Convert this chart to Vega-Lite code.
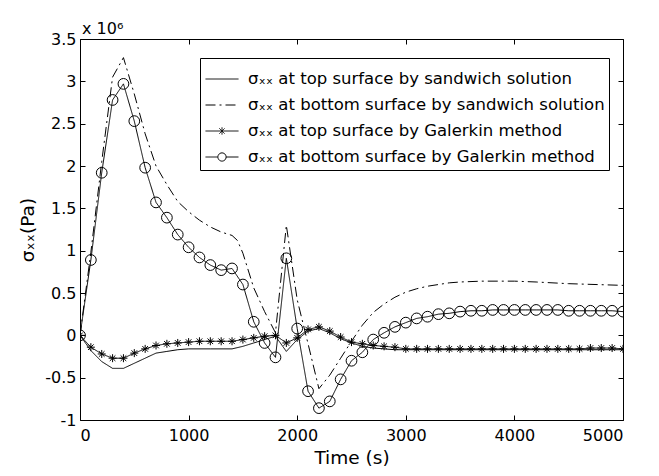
{
  "$schema": "https://vega.github.io/schema/vega-lite/v6.json",
  "autosize": "none",
  "width": 543,
  "height": 381,
  "padding": {"left": 80, "top": 39, "right": 36, "bottom": 56},
  "background": "white",
  "title": {"text": "x 10⁶", "anchor": "start", "frame": "group", "orient": "top", "offset": 6, "dx": 2, "dy": 25, "baseline": "alphabetic", "font": "DejaVu Sans", "fontSize": 16, "fontWeight": "normal", "color": "black"},
  "config": {
    "view": {"stroke": null},
    "font": "DejaVu Sans",
    "axis": {"grid": false, "domainColor": "black", "tickColor": "black", "labelColor": "black", "titleColor": "black", "labelFont": "DejaVu Sans", "titleFont": "DejaVu Sans", "labelFontSize": 16, "titleFontSize": 18.5, "titleFontWeight": "normal", "tickSize": -5, "domainWidth": 1, "tickWidth": 1}
  },
  "datasets": {
    "curves": [
      {"t": 0, "s": "σₓₓ at top surface by sandwich solution", "v": 0},
      {"t": 100, "s": "σₓₓ at top surface by sandwich solution", "v": -0.18},
      {"t": 200, "s": "σₓₓ at top surface by sandwich solution", "v": -0.31},
      {"t": 300, "s": "σₓₓ at top surface by sandwich solution", "v": -0.39},
      {"t": 400, "s": "σₓₓ at top surface by sandwich solution", "v": -0.39},
      {"t": 500, "s": "σₓₓ at top surface by sandwich solution", "v": -0.33},
      {"t": 600, "s": "σₓₓ at top surface by sandwich solution", "v": -0.27},
      {"t": 700, "s": "σₓₓ at top surface by sandwich solution", "v": -0.21},
      {"t": 800, "s": "σₓₓ at top surface by sandwich solution", "v": -0.19},
      {"t": 900, "s": "σₓₓ at top surface by sandwich solution", "v": -0.17},
      {"t": 1000, "s": "σₓₓ at top surface by sandwich solution", "v": -0.16},
      {"t": 1200, "s": "σₓₓ at top surface by sandwich solution", "v": -0.16},
      {"t": 1400, "s": "σₓₓ at top surface by sandwich solution", "v": -0.16},
      {"t": 1500, "s": "σₓₓ at top surface by sandwich solution", "v": -0.13},
      {"t": 1600, "s": "σₓₓ at top surface by sandwich solution", "v": -0.09},
      {"t": 1700, "s": "σₓₓ at top surface by sandwich solution", "v": -0.05},
      {"t": 1800, "s": "σₓₓ at top surface by sandwich solution", "v": -0.01},
      {"t": 1900, "s": "σₓₓ at top surface by sandwich solution", "v": -0.19},
      {"t": 2000, "s": "σₓₓ at top surface by sandwich solution", "v": -0.05},
      {"t": 2100, "s": "σₓₓ at top surface by sandwich solution", "v": 0.05},
      {"t": 2200, "s": "σₓₓ at top surface by sandwich solution", "v": 0.08},
      {"t": 2300, "s": "σₓₓ at top surface by sandwich solution", "v": 0.03},
      {"t": 2400, "s": "σₓₓ at top surface by sandwich solution", "v": -0.04},
      {"t": 2500, "s": "σₓₓ at top surface by sandwich solution", "v": -0.09},
      {"t": 2600, "s": "σₓₓ at top surface by sandwich solution", "v": -0.13},
      {"t": 2700, "s": "σₓₓ at top surface by sandwich solution", "v": -0.15},
      {"t": 2800, "s": "σₓₓ at top surface by sandwich solution", "v": -0.16},
      {"t": 2900, "s": "σₓₓ at top surface by sandwich solution", "v": -0.17},
      {"t": 3500, "s": "σₓₓ at top surface by sandwich solution", "v": -0.17},
      {"t": 4000, "s": "σₓₓ at top surface by sandwich solution", "v": -0.17},
      {"t": 4500, "s": "σₓₓ at top surface by sandwich solution", "v": -0.17},
      {"t": 5000, "s": "σₓₓ at top surface by sandwich solution", "v": -0.17},

      {"t": 0, "s": "σₓₓ at bottom surface by sandwich solution", "v": 0},
      {"t": 100, "s": "σₓₓ at bottom surface by sandwich solution", "v": 0.98},
      {"t": 200, "s": "σₓₓ at bottom surface by sandwich solution", "v": 2.05},
      {"t": 300, "s": "σₓₓ at bottom surface by sandwich solution", "v": 3.05},
      {"t": 400, "s": "σₓₓ at bottom surface by sandwich solution", "v": 3.28},
      {"t": 500, "s": "σₓₓ at bottom surface by sandwich solution", "v": 2.85},
      {"t": 600, "s": "σₓₓ at bottom surface by sandwich solution", "v": 2.38},
      {"t": 700, "s": "σₓₓ at bottom surface by sandwich solution", "v": 2.0},
      {"t": 800, "s": "σₓₓ at bottom surface by sandwich solution", "v": 1.78},
      {"t": 900, "s": "σₓₓ at bottom surface by sandwich solution", "v": 1.58},
      {"t": 1000, "s": "σₓₓ at bottom surface by sandwich solution", "v": 1.46},
      {"t": 1100, "s": "σₓₓ at bottom surface by sandwich solution", "v": 1.36},
      {"t": 1200, "s": "σₓₓ at bottom surface by sandwich solution", "v": 1.28},
      {"t": 1300, "s": "σₓₓ at bottom surface by sandwich solution", "v": 1.22},
      {"t": 1400, "s": "σₓₓ at bottom surface by sandwich solution", "v": 1.18},
      {"t": 1450, "s": "σₓₓ at bottom surface by sandwich solution", "v": 1.12},
      {"t": 1500, "s": "σₓₓ at bottom surface by sandwich solution", "v": 0.97},
      {"t": 1600, "s": "σₓₓ at bottom surface by sandwich solution", "v": 0.56},
      {"t": 1700, "s": "σₓₓ at bottom surface by sandwich solution", "v": 0.28},
      {"t": 1800, "s": "σₓₓ at bottom surface by sandwich solution", "v": 0.03},
      {"t": 1900, "s": "σₓₓ at bottom surface by sandwich solution", "v": 1.3},
      {"t": 2000, "s": "σₓₓ at bottom surface by sandwich solution", "v": 0.42},
      {"t": 2100, "s": "σₓₓ at bottom surface by sandwich solution", "v": -0.1},
      {"t": 2200, "s": "σₓₓ at bottom surface by sandwich solution", "v": -0.63},
      {"t": 2300, "s": "σₓₓ at bottom surface by sandwich solution", "v": -0.47},
      {"t": 2400, "s": "σₓₓ at bottom surface by sandwich solution", "v": -0.27},
      {"t": 2500, "s": "σₓₓ at bottom surface by sandwich solution", "v": -0.07},
      {"t": 2600, "s": "σₓₓ at bottom surface by sandwich solution", "v": 0.12},
      {"t": 2700, "s": "σₓₓ at bottom surface by sandwich solution", "v": 0.27},
      {"t": 2800, "s": "σₓₓ at bottom surface by sandwich solution", "v": 0.37},
      {"t": 2900, "s": "σₓₓ at bottom surface by sandwich solution", "v": 0.45},
      {"t": 3000, "s": "σₓₓ at bottom surface by sandwich solution", "v": 0.51},
      {"t": 3100, "s": "σₓₓ at bottom surface by sandwich solution", "v": 0.55},
      {"t": 3200, "s": "σₓₓ at bottom surface by sandwich solution", "v": 0.58},
      {"t": 3300, "s": "σₓₓ at bottom surface by sandwich solution", "v": 0.6},
      {"t": 3400, "s": "σₓₓ at bottom surface by sandwich solution", "v": 0.62},
      {"t": 3500, "s": "σₓₓ at bottom surface by sandwich solution", "v": 0.63},
      {"t": 3700, "s": "σₓₓ at bottom surface by sandwich solution", "v": 0.64},
      {"t": 4000, "s": "σₓₓ at bottom surface by sandwich solution", "v": 0.64},
      {"t": 4200, "s": "σₓₓ at bottom surface by sandwich solution", "v": 0.63},
      {"t": 4500, "s": "σₓₓ at bottom surface by sandwich solution", "v": 0.61},
      {"t": 5000, "s": "σₓₓ at bottom surface by sandwich solution", "v": 0.59},

      {"t": 0, "s": "σₓₓ at top surface by Galerkin method", "v": 0},
      {"t": 100, "s": "σₓₓ at top surface by Galerkin method", "v": -0.14},
      {"t": 200, "s": "σₓₓ at top surface by Galerkin method", "v": -0.22},
      {"t": 300, "s": "σₓₓ at top surface by Galerkin method", "v": -0.27},
      {"t": 400, "s": "σₓₓ at top surface by Galerkin method", "v": -0.27},
      {"t": 500, "s": "σₓₓ at top surface by Galerkin method", "v": -0.21},
      {"t": 600, "s": "σₓₓ at top surface by Galerkin method", "v": -0.16},
      {"t": 700, "s": "σₓₓ at top surface by Galerkin method", "v": -0.12},
      {"t": 800, "s": "σₓₓ at top surface by Galerkin method", "v": -0.1},
      {"t": 900, "s": "σₓₓ at top surface by Galerkin method", "v": -0.09},
      {"t": 1000, "s": "σₓₓ at top surface by Galerkin method", "v": -0.08},
      {"t": 1100, "s": "σₓₓ at top surface by Galerkin method", "v": -0.07},
      {"t": 1200, "s": "σₓₓ at top surface by Galerkin method", "v": -0.07},
      {"t": 1300, "s": "σₓₓ at top surface by Galerkin method", "v": -0.07},
      {"t": 1400, "s": "σₓₓ at top surface by Galerkin method", "v": -0.07},
      {"t": 1500, "s": "σₓₓ at top surface by Galerkin method", "v": -0.05},
      {"t": 1600, "s": "σₓₓ at top surface by Galerkin method", "v": -0.03},
      {"t": 1700, "s": "σₓₓ at top surface by Galerkin method", "v": -0.01},
      {"t": 1800, "s": "σₓₓ at top surface by Galerkin method", "v": 0.0},
      {"t": 1900, "s": "σₓₓ at top surface by Galerkin method", "v": -0.09},
      {"t": 2000, "s": "σₓₓ at top surface by Galerkin method", "v": -0.03},
      {"t": 2100, "s": "σₓₓ at top surface by Galerkin method", "v": 0.07},
      {"t": 2200, "s": "σₓₓ at top surface by Galerkin method", "v": 0.1},
      {"t": 2300, "s": "σₓₓ at top surface by Galerkin method", "v": 0.05},
      {"t": 2400, "s": "σₓₓ at top surface by Galerkin method", "v": -0.02},
      {"t": 2500, "s": "σₓₓ at top surface by Galerkin method", "v": -0.08},
      {"t": 2600, "s": "σₓₓ at top surface by Galerkin method", "v": -0.1},
      {"t": 2700, "s": "σₓₓ at top surface by Galerkin method", "v": -0.12},
      {"t": 2800, "s": "σₓₓ at top surface by Galerkin method", "v": -0.13},
      {"t": 2900, "s": "σₓₓ at top surface by Galerkin method", "v": -0.14},
      {"t": 3000, "s": "σₓₓ at top surface by Galerkin method", "v": -0.16},
      {"t": 3100, "s": "σₓₓ at top surface by Galerkin method", "v": -0.16},
      {"t": 3200, "s": "σₓₓ at top surface by Galerkin method", "v": -0.16},
      {"t": 3300, "s": "σₓₓ at top surface by Galerkin method", "v": -0.16},
      {"t": 3400, "s": "σₓₓ at top surface by Galerkin method", "v": -0.16},
      {"t": 3500, "s": "σₓₓ at top surface by Galerkin method", "v": -0.16},
      {"t": 3600, "s": "σₓₓ at top surface by Galerkin method", "v": -0.16},
      {"t": 3700, "s": "σₓₓ at top surface by Galerkin method", "v": -0.16},
      {"t": 3800, "s": "σₓₓ at top surface by Galerkin method", "v": -0.16},
      {"t": 3900, "s": "σₓₓ at top surface by Galerkin method", "v": -0.16},
      {"t": 4000, "s": "σₓₓ at top surface by Galerkin method", "v": -0.16},
      {"t": 4100, "s": "σₓₓ at top surface by Galerkin method", "v": -0.16},
      {"t": 4200, "s": "σₓₓ at top surface by Galerkin method", "v": -0.16},
      {"t": 4300, "s": "σₓₓ at top surface by Galerkin method", "v": -0.16},
      {"t": 4400, "s": "σₓₓ at top surface by Galerkin method", "v": -0.16},
      {"t": 4500, "s": "σₓₓ at top surface by Galerkin method", "v": -0.16},
      {"t": 4600, "s": "σₓₓ at top surface by Galerkin method", "v": -0.16},
      {"t": 4700, "s": "σₓₓ at top surface by Galerkin method", "v": -0.15},
      {"t": 4800, "s": "σₓₓ at top surface by Galerkin method", "v": -0.15},
      {"t": 4900, "s": "σₓₓ at top surface by Galerkin method", "v": -0.15},
      {"t": 5000, "s": "σₓₓ at top surface by Galerkin method", "v": -0.16},

      {"t": 0, "s": "σₓₓ at bottom surface by Galerkin method", "v": 0},
      {"t": 100, "s": "σₓₓ at bottom surface by Galerkin method", "v": 0.89},
      {"t": 200, "s": "σₓₓ at bottom surface by Galerkin method", "v": 1.92},
      {"t": 300, "s": "σₓₓ at bottom surface by Galerkin method", "v": 2.78},
      {"t": 400, "s": "σₓₓ at bottom surface by Galerkin method", "v": 2.97},
      {"t": 500, "s": "σₓₓ at bottom surface by Galerkin method", "v": 2.53},
      {"t": 600, "s": "σₓₓ at bottom surface by Galerkin method", "v": 1.98},
      {"t": 700, "s": "σₓₓ at bottom surface by Galerkin method", "v": 1.57},
      {"t": 800, "s": "σₓₓ at bottom surface by Galerkin method", "v": 1.39},
      {"t": 900, "s": "σₓₓ at bottom surface by Galerkin method", "v": 1.19},
      {"t": 1000, "s": "σₓₓ at bottom surface by Galerkin method", "v": 1.04},
      {"t": 1100, "s": "σₓₓ at bottom surface by Galerkin method", "v": 0.92},
      {"t": 1200, "s": "σₓₓ at bottom surface by Galerkin method", "v": 0.83},
      {"t": 1300, "s": "σₓₓ at bottom surface by Galerkin method", "v": 0.77},
      {"t": 1400, "s": "σₓₓ at bottom surface by Galerkin method", "v": 0.79},
      {"t": 1500, "s": "σₓₓ at bottom surface by Galerkin method", "v": 0.6},
      {"t": 1600, "s": "σₓₓ at bottom surface by Galerkin method", "v": 0.16},
      {"t": 1700, "s": "σₓₓ at bottom surface by Galerkin method", "v": -0.09},
      {"t": 1800, "s": "σₓₓ at bottom surface by Galerkin method", "v": -0.26},
      {"t": 1900, "s": "σₓₓ at bottom surface by Galerkin method", "v": 0.91},
      {"t": 2000, "s": "σₓₓ at bottom surface by Galerkin method", "v": 0.08},
      {"t": 2100, "s": "σₓₓ at bottom surface by Galerkin method", "v": -0.66},
      {"t": 2200, "s": "σₓₓ at bottom surface by Galerkin method", "v": -0.86},
      {"t": 2300, "s": "σₓₓ at bottom surface by Galerkin method", "v": -0.78},
      {"t": 2400, "s": "σₓₓ at bottom surface by Galerkin method", "v": -0.52},
      {"t": 2500, "s": "σₓₓ at bottom surface by Galerkin method", "v": -0.3},
      {"t": 2600, "s": "σₓₓ at bottom surface by Galerkin method", "v": -0.2},
      {"t": 2700, "s": "σₓₓ at bottom surface by Galerkin method", "v": -0.05},
      {"t": 2800, "s": "σₓₓ at bottom surface by Galerkin method", "v": 0.03},
      {"t": 2900, "s": "σₓₓ at bottom surface by Galerkin method", "v": 0.1},
      {"t": 3000, "s": "σₓₓ at bottom surface by Galerkin method", "v": 0.15},
      {"t": 3100, "s": "σₓₓ at bottom surface by Galerkin method", "v": 0.2},
      {"t": 3200, "s": "σₓₓ at bottom surface by Galerkin method", "v": 0.22},
      {"t": 3300, "s": "σₓₓ at bottom surface by Galerkin method", "v": 0.25},
      {"t": 3400, "s": "σₓₓ at bottom surface by Galerkin method", "v": 0.26},
      {"t": 3500, "s": "σₓₓ at bottom surface by Galerkin method", "v": 0.28},
      {"t": 3600, "s": "σₓₓ at bottom surface by Galerkin method", "v": 0.29},
      {"t": 3700, "s": "σₓₓ at bottom surface by Galerkin method", "v": 0.29},
      {"t": 3800, "s": "σₓₓ at bottom surface by Galerkin method", "v": 0.3},
      {"t": 3900, "s": "σₓₓ at bottom surface by Galerkin method", "v": 0.3},
      {"t": 4000, "s": "σₓₓ at bottom surface by Galerkin method", "v": 0.3},
      {"t": 4100, "s": "σₓₓ at bottom surface by Galerkin method", "v": 0.3},
      {"t": 4200, "s": "σₓₓ at bottom surface by Galerkin method", "v": 0.3},
      {"t": 4300, "s": "σₓₓ at bottom surface by Galerkin method", "v": 0.3},
      {"t": 4400, "s": "σₓₓ at bottom surface by Galerkin method", "v": 0.3},
      {"t": 4500, "s": "σₓₓ at bottom surface by Galerkin method", "v": 0.29},
      {"t": 4600, "s": "σₓₓ at bottom surface by Galerkin method", "v": 0.29},
      {"t": 4700, "s": "σₓₓ at bottom surface by Galerkin method", "v": 0.29},
      {"t": 4800, "s": "σₓₓ at bottom surface by Galerkin method", "v": 0.29},
      {"t": 4900, "s": "σₓₓ at bottom surface by Galerkin method", "v": 0.29},
      {"t": 5000, "s": "σₓₓ at bottom surface by Galerkin method", "v": 0.28}
    ]
  },
  "data": {"name": "curves"},
  "resolve": {"axis": {"x": "independent", "y": "independent"}},
  "layer": [
    {
      "mark": {"type": "line", "stroke": "black", "strokeWidth": 1, "clip": true},
      "encoding": {
        "x": {"field": "t", "type": "quantitative", "scale": {"domain": [0, 5000], "nice": false},
              "axis": {"orient": "bottom", "values": [0, 1000, 2000, 3000, 4000, 5000], "labelExpr": "'' + datum.value", "title": "Time (s)", "labelPadding": 12, "titlePadding": 5}},
        "y": {"field": "v", "type": "quantitative", "scale": {"domain": [-1, 3.5], "nice": false, "zero": false},
              "axis": {"orient": "left", "values": [-1, -0.5, 0, 0.5, 1, 1.5, 2, 2.5, 3, 3.5], "labelExpr": "'' + datum.value", "title": "σₓₓ(Pa)", "labelPadding": 9, "titlePadding": 7}},
        "strokeDash": {"field": "s", "type": "nominal",
          "scale": {"domain": ["σₓₓ at top surface by sandwich solution", "σₓₓ at bottom surface by sandwich solution", "σₓₓ at top surface by Galerkin method", "σₓₓ at bottom surface by Galerkin method"],
                    "range": [[1, 0], [10, 4, 2, 4], [1, 0], [1, 0]]},
          "legend": {
            "title": null, "orient": "none", "legendX": 120, "legendY": 19,
            "strokeColor": "black", "fillColor": "white", "padding": 4, "symbolOffset": 1,
            "symbolSize": 1089, "symbolStrokeWidth": 1, "symbolStrokeColor": "black", "symbolFillColor": "transparent",
            "labelFont": "DejaVu Sans", "labelFontSize": 16.5, "labelColor": "black", "labelOffset": 9, "labelLimit": 500, "rowPadding": 0,
            "encode": {"symbols": {"update": {
              "shape": {"signal": "indexof(datum.value, 'top surface by Galerkin') >= 0 ? 'M-1,0L1,0M0,-0.22L0,0.22M-0.16,-0.16L0.16,0.16M-0.16,0.16L0.16,-0.16' : indexof(datum.value, 'bottom surface by Galerkin') >= 0 ? 'M-1,0L-0.25,0M0.25,0L1,0M0.25,0A0.25,0.25,0,1,1,-0.25,0A0.25,0.25,0,1,1,0.25,0' : 'M-1,0L1,0'"},
              "fill": {"value": "transparent"},
              "stroke": {"value": "black"}
            }}}
          }},
        "detail": {"field": "s"}
      }
    },
    {
      "transform": [{"filter": "indexof(datum.s, 'Galerkin') >= 0"}],
      "mark": {"type": "point", "filled": false, "stroke": "black", "strokeWidth": 1, "opacity": 1, "clip": true},
      "encoding": {
        "x": {"field": "t", "type": "quantitative", "axis": {"orient": "top", "labels": false, "title": null, "values": [0, 1000, 2000, 3000, 4000, 5000]}},
        "y": {"field": "v", "type": "quantitative", "axis": {"orient": "right", "labels": false, "title": null, "values": [-1, -0.5, 0, 0.5, 1, 1.5, 2, 2.5, 3, 3.5]}},
        "shape": {"field": "s", "type": "nominal",
          "scale": {"domain": ["σₓₓ at top surface by Galerkin method", "σₓₓ at bottom surface by Galerkin method"],
                    "range": ["M-1,0L1,0M0,-1L0,1M-0.7,-0.7L0.7,0.7M-0.7,0.7L0.7,-0.7", "circle"]},
          "legend": null},
        "size": {"field": "s", "type": "nominal",
          "scale": {"domain": ["σₓₓ at top surface by Galerkin method", "σₓₓ at bottom surface by Galerkin method"], "range": [64, 115]},
          "legend": null}
      }
    }
  ]
}
